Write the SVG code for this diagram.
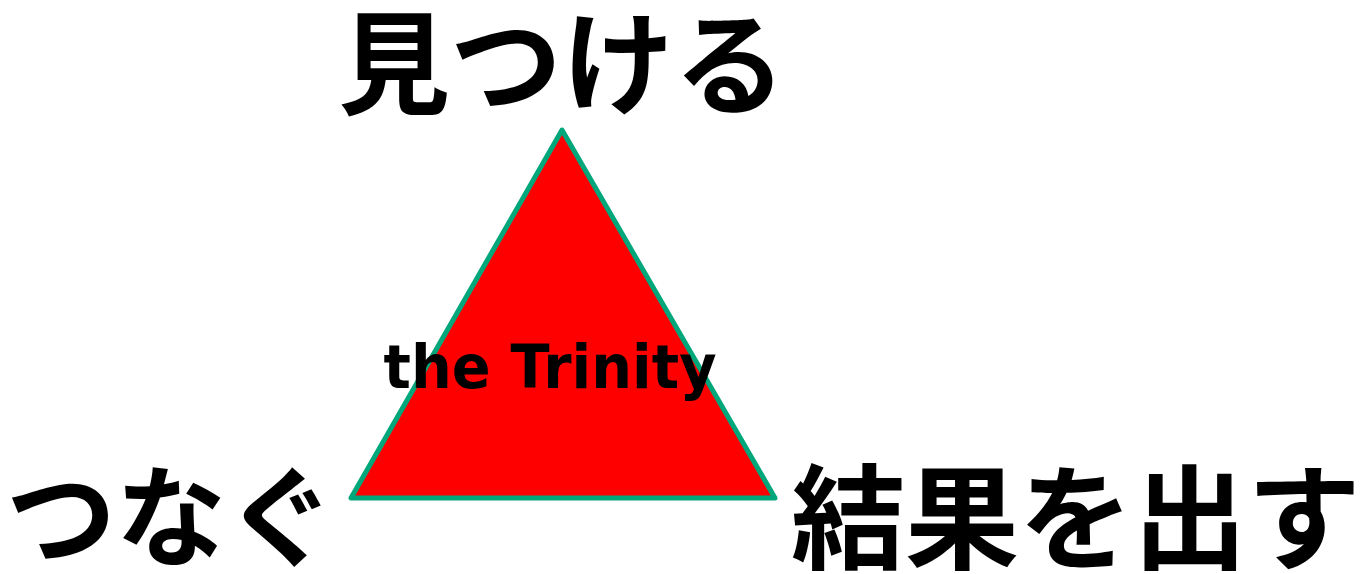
<svg xmlns="http://www.w3.org/2000/svg" width="1360" height="574" viewBox="0 0 1360 574">
<style>
.jp{font-family:"Noto Sans CJK JP","Noto Sans CJK SC",sans-serif;font-weight:bold;fill:#000;text-anchor:middle}
.en{font-family:"DejaVu Sans",Verdana,sans-serif;font-weight:bold;fill:#000;text-anchor:middle}
</style>
<rect width="1360" height="574" fill="#fff"/>
<g id="triangle">
<polygon points="562,130 351,498 775,498" fill="#ff0000" stroke="#00a77a" stroke-width="5" stroke-linejoin="round"/>
</g>
<g id="center-label"><text class="en" x="550" y="388" font-size="60" textLength="333" lengthAdjust="spacingAndGlyphs">the Trinity</text></g>
<g id="top-label"><text class="jp" x="562" y="106" font-size="112">見つける</text></g>
<g id="left-label"><text class="jp" x="171" y="558" font-size="110">つなぐ</text></g>
<g id="right-label"><text class="jp" x="1076" y="560" font-size="114">結果を出す</text></g>
<g id="connectors"></g>
</svg>
